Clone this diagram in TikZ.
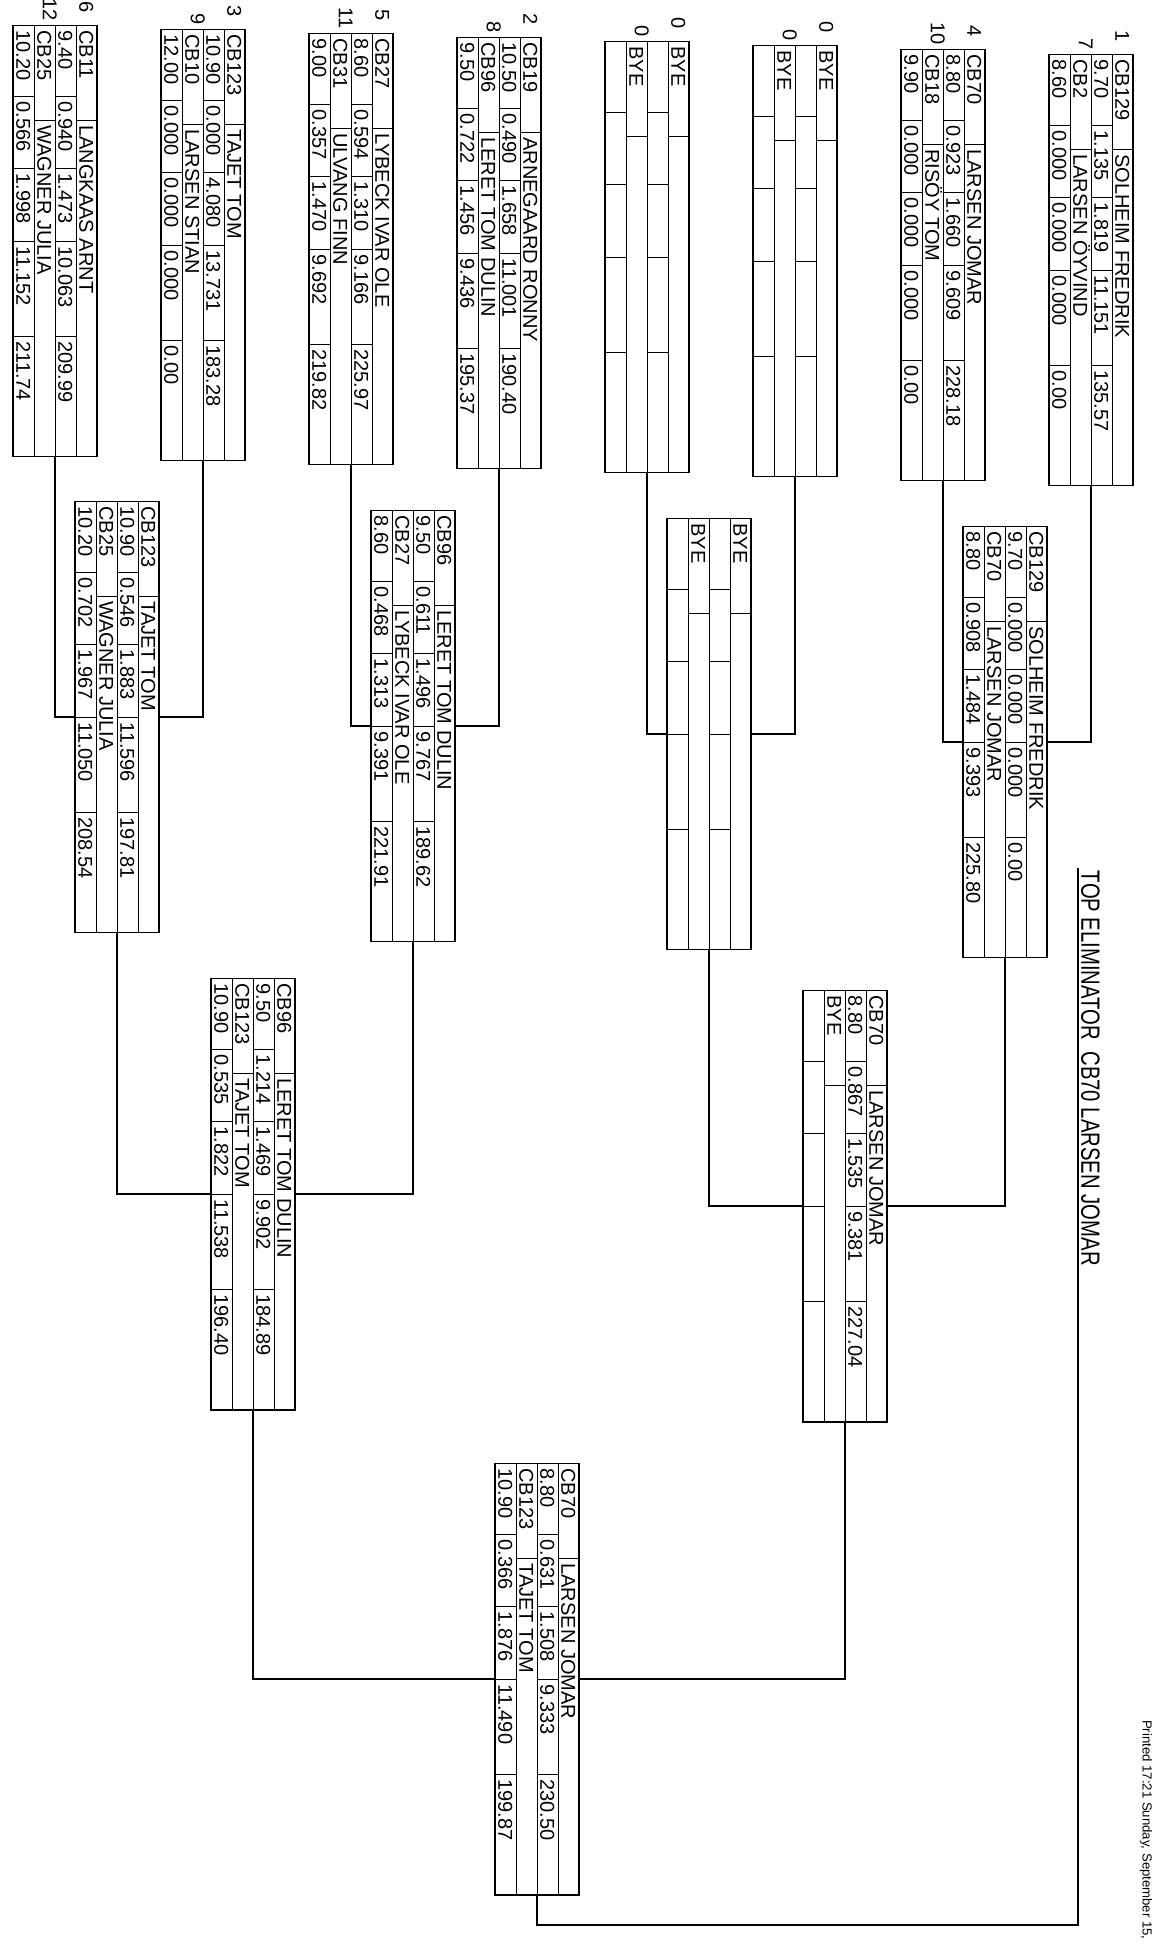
\documentclass[tikz,border=0pt]{standalone}
\usepackage{fontspec}
\setmainfont{Liberation Sans}
\newfontfamily\ttlfont[FakeStretch=0.77]{Liberation Sans}
\usetikzlibrary{calc}
\tikzset{
  mbox/.style={draw, line width=0.6pt, minimum width=1.68cm, minimum height=8.64cm, inner sep=0pt, outer sep=0pt},
  gline/.style={line width=0.5pt},
  conn/.style={line width=0.6pt},
  ctext/.style={rotate=-90, anchor=west, inner sep=0pt, text height=8.2pt, text depth=0pt, font=\fontsize{11.4}{13}\selectfont},
  seedt/.style={rotate=-90, anchor=east, inner sep=0pt, text height=8.2pt, text depth=0pt, font=\fontsize{11.4}{13}\selectfont},
  ttl/.style={rotate=-90, anchor=south west, inner sep=1.5pt, font=\ttlfont\fontsize{15}{17}\selectfont},
  prt/.style={rotate=-90, anchor=east, inner sep=0pt, font=\fontsize{7.5}{9}\selectfont},
}
\newcommand\numrow[4]{%
  \def\tmprow{#4}%
  \ifx\tmprow\empty\else
  \foreach \v [count=\i] in {#4} {
    \pgfmathsetmacro\pp{{0,71,143,216,311}[\i-1]+5}
    \node[ctext] (#1\i) at (#2, #3+\pp) {\v};
  }%
  \fi
}
\newcommand\optcell[4]{%
  \def\tmpcell{#4}%
  \ifx\tmpcell\empty\else
  \node[ctext] (#1) at (#2, #3) {#4};
  \fi
}
% #1 name, #2 centre x, #3 top y, #4-#6 player 1, #7-#9 player 2
\newcommand\drawmatch[9]{%
  \node[mbox] (#1) at (#2, #3+216) {};
  \foreach \dx in {-21, 0, 21} {\draw[gline] (#2+\dx, #3) -- (#2+\dx, #3+432);}
  \draw[gline] (#2+21, #3+95) -- (#2+42, #3+95);
  \draw[gline] (#2-21, #3+95) -- (#2, #3+95);
  \foreach \p in {71,143,216,311} {
    \draw[gline] (#2, #3+\p) -- (#2+21, #3+\p);
    \draw[gline] (#2-42, #3+\p) -- (#2-21, #3+\p);
  }
  \optcell{#1-a1}{#2+31.5}{#3+5}{#4}
  \optcell{#1-a2}{#2+31.5}{#3+100}{#5}
  \numrow{#1-b}{#2+10.5}{#3}{#6}
  \optcell{#1-c1}{#2-10.5}{#3+5}{#7}
  \optcell{#1-c2}{#2-10.5}{#3+100}{#8}
  \numrow{#1-d}{#2-31.5}{#3}{#9}
}
\newcommand\seeds[5]{%
  \node[seedt] (#1-s1) at (#2+31.5, #3-12) {#4};
  \node[seedt] (#1-s2) at (#2-5, #3-4) {#5};
}
\begin{document}
\begin{tikzpicture}[x=0.02cm, y=-0.02cm]
\useasboundingbox (0,0) rectangle (1160,1944);
\fill[white] (0,0) rectangle (1160,1944);

% Round 1
\drawmatch{m1}{1091}{54}{CB129}{SOLHEIM FREDRIK}{9.70,1.135,1.819,11.151,135.57}{CB2}{LARSEN ÖYVIND}{8.60,0.000,0.000,0.000,0.00}
\seeds{m1}{1091}{54}{1}{7}
\drawmatch{m2}{943}{49}{CB70}{LARSEN JOMAR}{8.80,0.923,1.660,9.609,228.18}{CB18}{RISÖY TOM}{9.90,0.000,0.000,0.000,0.00}
\seeds{m2}{943}{49}{4}{10}
\drawmatch{m3}{795}{45}{BYE}{}{}{BYE}{}{}
\seeds{m3}{795}{45}{0}{0}
\drawmatch{m4}{647}{41}{BYE}{}{}{BYE}{}{}
\seeds{m4}{647}{41}{0}{0}
\drawmatch{m5}{499}{37}{CB19}{ARNEGAARD RONNY}{10.50,0.490,1.658,11.001,190.40}{CB96}{LERET TOM DULIN}{9.50,0.722,1.456,9.436,195.37}
\seeds{m5}{499}{37}{2}{8}
\drawmatch{m6}{351}{33}{CB27}{LYBECK IVAR OLE}{8.60,0.594,1.310,9.166,225.97}{CB31}{ULVANG FINN}{9.00,0.357,1.470,9.692,219.82}
\seeds{m6}{351}{33}{5}{11}
\drawmatch{m7}{203}{29}{CB123}{TAJET TOM}{10.90,0.000,4.080,13.731,183.28}{CB10}{LARSEN STIAN}{12.00,0.000,0.000,0.000,0.00}
\seeds{m7}{203}{29}{3}{9}
\drawmatch{m8}{55}{25}{CB11}{LANGKAAS ARNT}{9.40,0.940,1.473,10.063,209.99}{CB25}{WAGNER JULIA}{10.20,0.566,1.998,11.152,211.74}
\seeds{m8}{55}{25}{6}{12}

% Round 2
\drawmatch{q4}{1005}{526}{CB129}{SOLHEIM FREDRIK}{9.70,0.000,0.000,0.000,0.00}{CB70}{LARSEN JOMAR}{8.80,0.908,1.484,9.393,225.80}
\drawmatch{q3}{709}{518}{BYE}{}{}{BYE}{}{}
\drawmatch{q2}{413}{510}{CB96}{LERET TOM DULIN}{9.50,0.611,1.496,9.767,189.62}{CB27}{LYBECK IVAR OLE}{8.60,0.468,1.313,9.391,221.91}
\drawmatch{q1}{117}{501}{CB123}{TAJET TOM}{10.90,0.546,1.883,11.596,197.81}{CB25}{WAGNER JULIA}{10.20,0.702,1.967,11.050,208.54}

% Round 3
\drawmatch{s2}{845}{990}{CB70}{LARSEN JOMAR}{8.80,0.867,1.535,9.381,227.04}{BYE}{}{}
\drawmatch{s1}{253}{978}{CB96}{LERET TOM DULIN}{9.50,1.214,1.469,9.902,184.89}{CB123}{TAJET TOM}{10.90,0.535,1.822,11.538,196.40}

% Final
\drawmatch{f}{537}{1463}{CB70}{LARSEN JOMAR}{8.80,0.631,1.508,9.333,230.50}{CB123}{TAJET TOM}{10.90,0.366,1.876,11.490,199.87}

% Connectors
\draw[conn] (m1.south) |- (q4.east);
\draw[conn] (m2.south) |- (q4.west);
\draw[conn] (m3.south) |- (q3.east);
\draw[conn] (m4.south) |- (q3.west);
\draw[conn] (m5.south) |- (q2.east);
\draw[conn] (m6.south) |- (q2.west);
\draw[conn] (m7.south) |- (q1.east);
\draw[conn] (m8.south) |- (q1.west);
\draw[conn] (q4.south) |- (s2.east);
\draw[conn] (q3.south) |- (s2.west);
\draw[conn] (q2.south) |- (s1.east);
\draw[conn] (q1.south) |- (s1.west);
\draw[conn] (s2.south) |- (f.east);
\draw[conn] (s1.south) |- (f.west);
\coordinate (cb) at (1078,1925);
\coordinate (ct) at (1078,868);
\draw[conn] (f.south) |- (cb) -- (ct);
\node[ttl] (title) at (ct) {TOP ELIMINATOR\ \ CB70 LARSEN JOMAR};
\node[prt] (printed) at (1146,1940) {Printed 17:21 Sunday, September 15,};
\end{tikzpicture}
\end{document}
